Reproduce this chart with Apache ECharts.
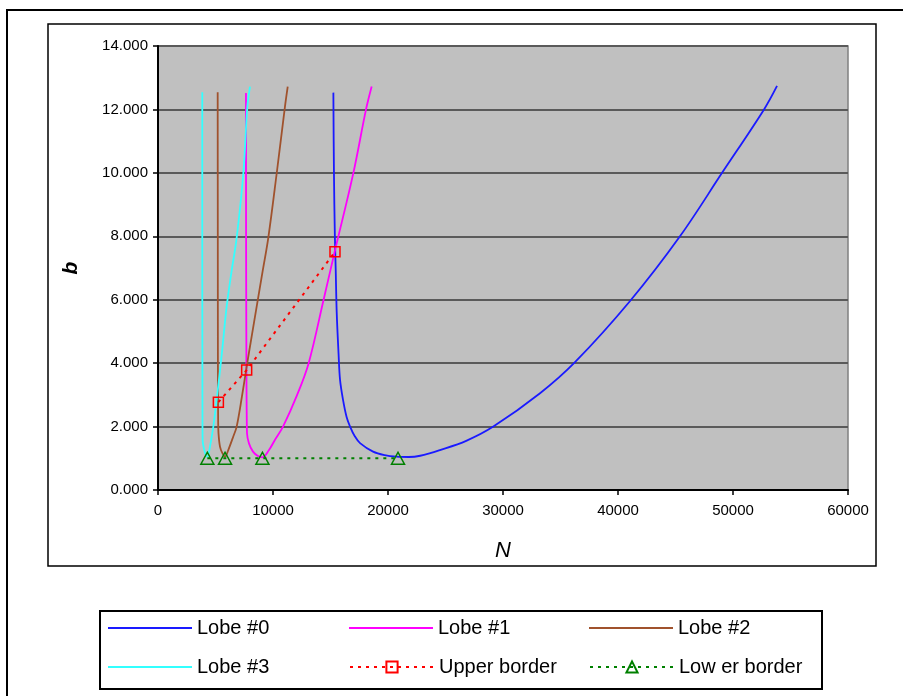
<!DOCTYPE html>
<html>
<head>
<meta charset="utf-8">
<script src="https://cdn.jsdelivr.net/npm/echarts@6/dist/echarts.min.js"></script>
<style>html,body{margin:0;padding:0;background:#fff;}#c{width:903px;height:696px;}</style>
</head>
<body>
<div id="c"></div>
<script>
// Data: [N, b]
var lobe0 = [[15250,12.53],[15300,10.0],[15380,8.0],[15450,7.0],[15540,5.6],[15700,4.3],[15830,3.47],[16090,2.84],[16400,2.3],[16700,2.0],[17100,1.7],[17570,1.48],[18700,1.21],[19700,1.1],[20760,1.05],[21800,1.04],[22800,1.08],[24520,1.26],[26800,1.55],[29160,2.0],[33220,3.05],[36260,4.03],[41050,5.96],[45390,8.0],[49050,10.0],[52700,12.0],[53830,12.74]];
var lobe1 = [[7650,12.52],[7660,8.0],[7680,5.0],[7700,3.0],[7720,2.2],[7740,1.79],[7910,1.47],[8260,1.21],[8690,1.07],[9080,1.03],[9650,1.26],[10200,1.6],[10870,2.0],[12100,3.0],[13100,4.0],[14400,6.0],[15390,7.55],[16990,10.0],[18090,12.0],[18580,12.72]];
var lobe2 = [[5190,12.54],[5200,8.0],[5210,4.0],[5230,2.2],[5260,1.79],[5390,1.37],[5600,1.16],[5830,1.05],[6110,1.26],[6540,1.68],[6840,2.0],[7300,2.95],[7710,3.89],[8150,4.85],[8580,5.78],[9100,6.9],[9590,7.95],[10320,9.98],[11040,12.09],[11280,12.72]];
var lobe3 = [[3850,12.54],[3850,8.0],[3860,4.0],[3870,2.0],[3880,1.58],[4100,1.16],[4290,1.05],[4520,1.37],[4810,2.0],[5100,2.84],[5550,4.3],[5970,5.78],[6400,6.9],[6840,7.95],[7420,9.98],[7770,12.09],[8000,12.72]];
var upperBorder = [[5250,2.77],[7710,3.78],[15390,7.51]];
var lowerBorder = [[4290,1.0],[5830,1.0],[9080,1.0],[20870,1.0]];
var seriesNames = ['Lobe #0','Lobe #1','Lobe #2','Lobe #3','Upper border','Lower border'];
var legendLabels = ['Lobe #0','Lobe #1','Lobe #2','Lobe #3','Upper border','Low er border'];

var FONT = 'Liberation Sans, Arial, sans-serif';
var chart = echarts.init(document.getElementById('c'), null, {renderer:'canvas'});

function lobe(name, data, color){
  return {name:name, type:'line', data:data, symbol:'none', smooth:0.35,
    lineStyle:{color:color, width:1.8}, itemStyle:{color:color}, z:3};
}
var legendPos = [[108,618],[349,618],[589,618],[108,657],[349,657],[589,657]];
var legends = seriesNames.map(function(n,i){
  var isLobe = i < 4;
  var l = {data:[n], left:legendPos[i][0], top:legendPos[i][1], padding:0,
    itemWidth:84, itemHeight:14, selectedMode:false,
    formatter:function(){return legendLabels[i];},
    textStyle:{fontFamily:FONT, fontSize:20, color:'#000'}};
  if (isLobe) { l.icon = 'rect'; l.itemHeight = 2; }
  return l;
});

chart.setOption({
  animation:false,
  backgroundColor:'#fff',
  textStyle:{fontFamily:FONT},
  graphic:[
    {type:'rect', shape:{x:7,y:10,width:920,height:720}, style:{fill:'none',stroke:'#000',lineWidth:2}, z:-10},
    {type:'rect', shape:{x:48,y:24,width:828,height:542}, style:{fill:'none',stroke:'#000',lineWidth:1.5}, z:-10},
    {type:'rect', shape:{x:100,y:611,width:722,height:78}, style:{fill:'#fff',stroke:'#000',lineWidth:2}, z:-10}
  ],
  legend:legends,
  grid:{left:158, right:55, top:46, bottom:206, show:true, backgroundColor:'#c0c0c0', borderColor:'#808080', borderWidth:1.5},
  xAxis:{type:'value', min:0, max:60000, interval:10000,
    name:'N', nameLocation:'middle', nameGap:50,
    nameTextStyle:{fontFamily:FONT, fontSize:22, fontStyle:'italic', color:'#000'},
    axisLine:{show:true, lineStyle:{color:'#000', width:2}},
    axisTick:{show:true, length:5, lineStyle:{color:'#000', width:1.5}},
    axisLabel:{fontFamily:FONT, fontSize:15, color:'#000', margin:13, formatter:function(v){return String(v);}},
    splitLine:{show:false}},
  yAxis:{type:'value', min:0, max:14, interval:2,
    name:'b', nameLocation:'middle', nameGap:76, nameRotate:90,
    nameTextStyle:{fontFamily:FONT, fontSize:21, fontStyle:'italic', fontWeight:'bold', color:'#000'},
    axisLine:{show:true, lineStyle:{color:'#000', width:2}},
    axisTick:{show:true, length:5, lineStyle:{color:'#000', width:1.5}},
    axisLabel:{fontFamily:FONT, fontSize:15, color:'#000', margin:10, formatter:function(v){return v.toFixed(3);}},
    splitLine:{show:true, lineStyle:{color:'#5a5a5a', width:2}}},
  series:[
    lobe(seriesNames[0], lobe0, '#1a1aff'),
    lobe(seriesNames[1], lobe1, '#ff00ff'),
    lobe(seriesNames[2], lobe2, '#a0522d'),
    lobe(seriesNames[3], lobe3, '#33ffff'),
    {name:seriesNames[4], type:'line', data:upperBorder, symbol:'rect', symbolSize:10,
      lineStyle:{color:'#ff0000', width:2, type:[3,5]},
      itemStyle:{color:'rgba(0,0,0,0)', borderColor:'#ff0000', borderWidth:1.5}, z:4},
    {name:seriesNames[5], type:'line', data:lowerBorder, symbol:'triangle', symbolSize:[13,12],
      lineStyle:{color:'#008000', width:2, type:[3,5]},
      itemStyle:{color:'rgba(0,0,0,0)', borderColor:'#008000', borderWidth:1.5}, z:4}
  ]
});
</script>
</body>
</html>
